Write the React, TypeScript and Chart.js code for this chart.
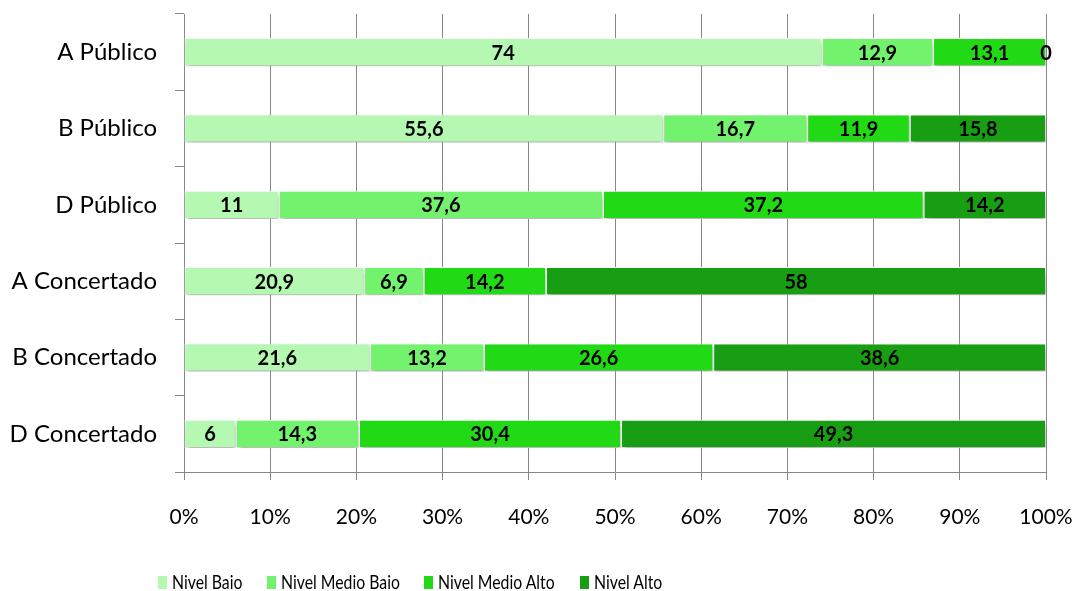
import React, { useEffect, useRef } from "react";
import { Chart, registerables } from "chart.js";

Chart.register(...registerables);

const categories = ["A Público", "B Público", "D Público", "A Concertado", "B Concertado", "D Concertado"];
const seriesNames = ["Nivel Baio", "Nivel Medio Baio", "Nivel Medio Alto", "Nivel Alto"];
const nivelBaio = [74, 55.6, 11, 20.9, 21.6, 6];
const nivelMedioBaio = [12.9, 16.7, 37.6, 6.9, 13.2, 14.3];
const nivelMedioAlto = [13.1, 11.9, 37.2, 14.2, 26.6, 30.4];
const nivelAlto = [0, 15.8, 14.2, 58, 38.6, 49.3];
const seriesColors = ["#B5F8B1", "#72F26D", "#22D916", "#189E12"];
const xTicks = [0, 10, 20, 30, 40, 50, 60, 70, 80, 90, 100];

// layout constants (legend item left edges, px)
const LEGEND_LEFT = [158, 267, 424, 580];

const FONT = "Lato, 'Open Sans', sans-serif";

export default function App() {
  const ref = useRef<HTMLCanvasElement>(null);
  useEffect(() => {
    const raw = [nivelBaio, nivelMedioBaio, nivelMedioAlto, nivelAlto];
    const totals = categories.map((_, i) => raw.reduce((s, a) => s + a[i], 0));
    const shadowPlugin = {
      id: "shadow",
      beforeDatasetsDraw(chart: any) {
        const c = chart.ctx;
        c.save();
        c.shadowColor = "rgba(0,0,0,0.35)";
        c.shadowBlur = 5;
        c.shadowOffsetX = 1;
        c.shadowOffsetY = 3;
      },
      afterDatasetsDraw(chart: any) {
        chart.ctx.restore();
      },
    };
    const labelPlugin = {
      id: "valueLabels",
      afterDraw(chart: any) {
        const c = chart.ctx;
        c.save();
        c.font = `bold 20px ${FONT}`;
        c.fillStyle = "#000";
        c.textAlign = "center";
        c.textBaseline = "middle";
        chart.data.datasets.forEach((ds: any, di: number) => {
          const meta = chart.getDatasetMeta(di);
          meta.data.forEach((el: any, i: number) => {
            const v = raw[di][i];
            const x = (el.x + el.base) / 2;
            c.fillText(String(v).replace(".", ","), x, el.y + 1);
          });
        });
        c.restore();
      },
    };
    const chart = new Chart(ref.current!, {
      type: "bar",
      data: {
        labels: categories,
        datasets: raw.map((arr, di) => ({
          label: seriesNames[di],
          data: arr.map((v, i) => (v / totals[i]) * 100),
          backgroundColor: seriesColors[di],
          borderColor: "#ffffff",
          borderWidth: 1,
          borderSkipped: false,
          barPercentage: 0.74,
          categoryPercentage: 0.5,
        })),
      },
      options: {
        indexAxis: "y",
        animation: false,
        responsive: false,
        maintainAspectRatio: false,
        layout: { padding: { top: 14, right: 33, left: 0, bottom: 49 } },
        scales: {
          x: {
            stacked: true,
            min: 0,
            max: 100,
            afterBuildTicks: (s: any) => {
              s.ticks = xTicks.map((v) => ({ value: v }));
            },
            afterFit: (s: any) => {
              s.height = 70;
              s.paddingLeft = 0;
              s.paddingRight = 0;
            },
            ticks: {
              callback: (v: any) => v + "%",
              color: "#000",
              font: { family: FONT, size: 21 },
              padding: 25,
              maxRotation: 0,
            },
            grid: { color: "#878787", lineWidth: 1, tickLength: 8, drawTicks: true },
            border: { color: "#878787", width: 1 },
          },
          y: {
            stacked: true,
            afterFit: (s: any) => {
              s.width = 184;
              s.paddingTop = 0;
              s.paddingBottom = 0;
            },
            ticks: {
              color: "#000",
              font: { family: FONT, size: 24 },
              padding: 18,
            },
            grid: { offset: true, drawOnChartArea: false, color: "#878787", tickLength: 9 },
            border: { color: "#878787", width: 1 },
          },
        },
        plugins: {
          legend: { display: false },
          tooltip: { enabled: false },
        },
      },
      plugins: [shadowPlugin, labelPlugin],
    } as any);
    return () => chart.destroy();
  }, []);
  return (
    <div style={{ position: "absolute", left: 0, top: 0, width: 1079, height: 591, background: "#fff" }}>
      <canvas ref={ref} width={1079} height={591} style={{ width: 1079, height: 591, display: "block" }} />
      {seriesNames.map((name, i) => (
        <div
          key={name}
          style={{
            position: "absolute",
            left: LEGEND_LEFT[i],
            top: 569,
            display: "flex",
            alignItems: "center",
            fontFamily: FONT,
            fontSize: 20,
            lineHeight: "24px",
            color: "#000",
            whiteSpace: "nowrap",
          }}
        >
          <span style={{ display: "inline-block", width: 9, height: 13, background: seriesColors[i], marginRight: 5, marginTop: 3 }} />
          <span style={{ display: "inline-block", transform: "scaleX(0.79)", transformOrigin: "left center" }}>{name}</span>
        </div>
      ))}
    </div>
  );
}
